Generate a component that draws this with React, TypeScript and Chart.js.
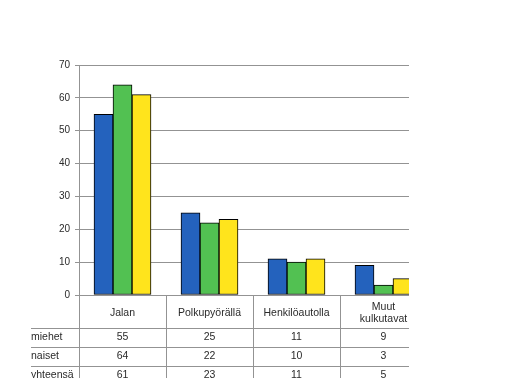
import React, { useEffect, useRef } from "react";
import { Chart, registerables } from "chart.js";

Chart.register(...registerables);

const categories: string[][] = [["Jalan"], ["Polkupyörällä"], ["Henkilöautolla"], ["Muut", "kulkutavat"]];
const seriesNames = ["miehet", "naiset", "yhteensä"];
const miehet = [55, 25, 11, 9];
const naiset = [64, 22, 10, 3];
const yhteensa = [61, 23, 11, 5];
const yMax = 70;
const yStep = 10;

const seriesValues = [miehet, naiset, yhteensa];
const seriesColors = ["#2462bd", "#52c152", "#ffe41c"];

const FONT = "10.5px Arial, 'Liberation Sans', sans-serif";
const TEXT = "#2a2a2a";
const LINE = "#939393";

const tablePlugin = {
  id: "dataTable",
  afterDraw(chart: any) {
    const { ctx, chartArea, scales } = chart;
    const xs = scales.x;
    const n = categories.length;
    const catW = (chartArea.right - chartArea.left) / n;
    const bottom = chartArea.bottom;
    const H = chart.height;
    const W = chart.width;
    const headerH = 33;
    const rowH = 19;
    const tableLeft = 31;
    ctx.save();
    ctx.strokeStyle = LINE;
    ctx.lineWidth = 1;
    for (let i = 0; i < n; i++) {
      const bx = Math.round(xs.getPixelForValue(i) - catW / 2) + 0.5;
      ctx.beginPath();
      ctx.moveTo(bx, i === 0 ? chartArea.top : bottom);
      ctx.lineTo(bx, H);
      ctx.stroke();
    }
    for (let r = 0; r < seriesNames.length; r++) {
      const ly = Math.round(bottom + headerH + r * rowH) + 0.5;
      ctx.beginPath();
      ctx.moveTo(tableLeft, ly);
      ctx.lineTo(W, ly);
      ctx.stroke();
    }
    ctx.font = FONT;
    ctx.fillStyle = TEXT;
    ctx.textBaseline = "middle";
    ctx.textAlign = "center";
    for (let i = 0; i < n; i++) {
      const cx = xs.getPixelForValue(i);
      const lines = categories[i];
      const lh = 11.5;
      const cy = bottom + headerH / 2 + 1.5;
      lines.forEach((t, k) => {
        ctx.fillText(t, cx, cy - ((lines.length - 1) * lh) / 2 + k * lh);
      });
    }
    for (let r = 0; r < seriesNames.length; r++) {
      const cy = bottom + headerH + r * rowH + rowH / 2 - 0.5;
      ctx.textAlign = "left";
      ctx.fillText(seriesNames[r], tableLeft, cy);
      ctx.textAlign = "center";
      for (let i = 0; i < n; i++) {
        ctx.fillText(String(seriesValues[r][i]), xs.getPixelForValue(i), cy);
      }
    }
    ctx.restore();
  },
};

export default function App() {
  const ref = useRef<HTMLCanvasElement | null>(null);
  useEffect(() => {
    if (!ref.current) return;
    const chart = new Chart(ref.current, {
      type: "bar",
      data: {
        labels: categories.map((c) => c.join(" ")),
        datasets: seriesNames.map((name, i) => ({
          label: name,
          data: seriesValues[i],
          backgroundColor: seriesColors[i],
          borderColor: "#000000",
          borderWidth: 1,
          borderSkipped: false,
          barThickness: 19,
        })),
      },
      options: {
        responsive: false,
        animation: false,
        events: [],
        layout: { padding: { top: 65, bottom: 83, left: 0, right: 0 } },
        plugins: {
          legend: { display: false },
          tooltip: { enabled: false },
        },
        scales: {
          x: {
            display: false,
            offset: true,
          },
          y: {
            min: 0,
            max: yMax,
            afterFit(scale: any) {
              scale.width = 79;
            },
            ticks: {
              stepSize: yStep,
              font: { family: "Arial, 'Liberation Sans', sans-serif", size: 10 },
              color: TEXT,
              padding: 5,
            },
            grid: {
              color: LINE,
              lineWidth: 1,
              tickLength: 4,
              drawTicks: true,
            },
            border: { display: true, color: LINE, width: 1 },
          },
        },
      },
      plugins: [tablePlugin],
    });
    return () => chart.destroy();
  }, []);
  return (
    <div
      style={{
        position: "absolute",
        left: 0,
        top: 0,
        width: 409,
        height: 378,
        overflow: "hidden",
        background: "#ffffff",
      }}
    >
      <canvas ref={ref} width={427} height={378} style={{ display: "block" }} />
    </div>
  );
}
